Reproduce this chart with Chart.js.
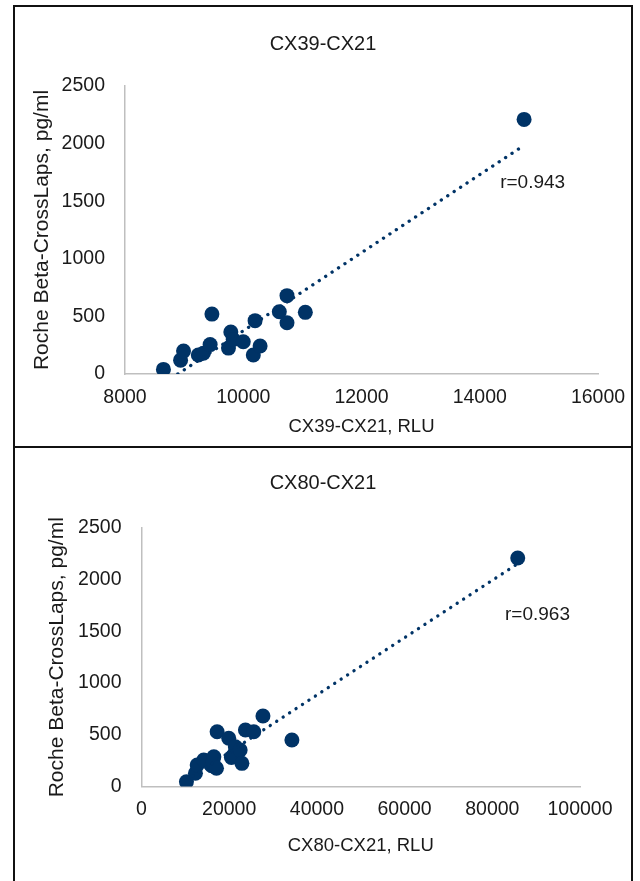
<!DOCTYPE html>
<html><head><meta charset="utf-8">
<script src="https://cdn.jsdelivr.net/npm/chart.js@4"></script>
<style>
html,body{margin:0;padding:0;background:#fff;width:640px;height:881px;overflow:hidden;}
canvas{position:absolute;left:0;}
.ln{position:absolute;background:#111;}
</style></head><body>
<canvas id="c1" width="640" height="447" style="top:0"></canvas>
<canvas id="c2" width="640" height="434" style="top:447px"></canvas>
<div class="ln" style="left:13px;top:5px;width:620px;height:2px"></div>
<div class="ln" style="left:13px;top:5px;width:2px;height:876px"></div>
<div class="ln" style="left:631px;top:5px;width:2px;height:876px"></div>
<div class="ln" style="left:13px;top:446px;width:620px;height:2px"></div>
<script>
// ---- Chart 1: CX39-CX21 ----
const title1 = "CX39-CX21";
const xTitle1 = "CX39-CX21, RLU";
const rLabel1 = "r=0.943";
const x1 = [8650, 8940, 8990, 9240, 9325, 9440, 9470, 9750, 9790, 9830, 10000, 10170, 10200, 10285, 10610, 10740, 10740, 11050, 14750];
const y1 = [40, 120, 200, 165, 180, 255, 520, 225, 365, 300, 280, 165, 463, 243, 540, 680, 445, 535, 2210];
const trendX1 = [8894, 14750];
const trendY1 = [0, 1985];
const xTicks1 = [8000, 10000, 12000, 14000, 16000];

// ---- Chart 2: CX80-CX21 ----
const title2 = "CX80-CX21";
const xTitle2 = "CX80-CX21, RLU";
const rLabel2 = "r=0.963";
const x2 = [10250, 12300, 12700, 14200, 16000, 16300, 16500, 17100, 17250, 19900, 20500, 21000, 21400, 22500, 22900, 23700, 25600, 27700, 34300, 85800];
const y2 = [46, 128, 208, 256, 200, 240, 288, 176, 530, 466, 280, 305, 385, 353, 224, 546, 530, 682, 450, 2210];
const trendX2 = [10250, 85800];
const trendY2 = [60, 2155];
const xTicks2 = [0, 20000, 40000, 60000, 80000, 100000];

const yTitle = "Roche Beta-CrossLaps, pg/ml";
const yTicks = [0, 500, 1000, 1500, 2000, 2500];

const NAVY = "#003366";
const TXT = "#1a1a1a";
const AXIS = "#bfbfbf";
const FONT = "'Liberation Sans', Arial, sans-serif";

function pts(xs, ys){ return xs.map((x,i)=>({x:x, y:ys[i]})); }

const rLabelPlugin = {
  id: 'rlabel',
  afterDatasetsDraw(chart, args, opts){
    const ctx = chart.ctx;
    const xs = chart.scales.x, ys = chart.scales.y;
    ctx.save();
    ctx.font = opts.size + "px " + FONT;
    ctx.fillStyle = TXT;
    ctx.textAlign = 'left';
    ctx.textBaseline = 'middle';
    ctx.fillText(opts.text, xs.getPixelForValue(opts.x), ys.getPixelForValue(opts.y));
    ctx.restore();
  }
};

function makeChart(id, cfg){
  return new Chart(document.getElementById(id), {
    type: 'scatter',
    data: {
      datasets: [
        { data: pts(cfg.xs, cfg.ys), backgroundColor: NAVY, borderColor: NAVY, borderWidth: 0, pointRadius: 7.5, pointHoverRadius: 7.5, order: 2 },
        { data: pts(cfg.tx, cfg.ty), showLine: true, pointRadius: 0, borderColor: NAVY, borderWidth: 3.3, borderDash: [0.1, 7.6], borderCapStyle: 'round', fill: false, order: 1 }
      ]
    },
    options: {
      responsive: false,
      animation: false,
      events: [],
      layout: { padding: { left: cfg.padL, right: cfg.padR, top: 0, bottom: 0 } },
      plugins: {
        legend: { display: false },
        tooltip: { enabled: false },
        title: { display: true, text: cfg.title, color: TXT, font: { family: FONT, size: 20, weight: 'normal' }, padding: { top: cfg.tPadTop, bottom: cfg.tPadBottom } },
        rlabel: { text: cfg.r, x: cfg.rx, y: cfg.ry, size: 19 }
      },
      scales: {
        x: {
          type: 'linear', min: cfg.xTicks[0], max: cfg.xTicks[cfg.xTicks.length-1],
          afterBuildTicks: (s) => { s.ticks = cfg.xTicks.map(v => ({value: v})); },
          afterFit: (s) => { s.height = cfg.xH; },
          grid: { display: false, drawTicks: false },
          border: { display: true, color: AXIS, width: 1.5 },
          ticks: { color: TXT, font: { family: FONT, size: 19.5 }, padding: 11.5, maxRotation: 0, autoSkip: false, callback: (v) => String(v) },
          title: { display: true, text: cfg.xTitle, color: TXT, font: { family: FONT, size: 18.5 }, padding: { top: 0, bottom: cfg.xtPad } }
        },
        y: {
          type: 'linear', min: 0, max: 2500,
          afterBuildTicks: (s) => { s.ticks = yTicks.map(v => ({value: v})); },
          afterFit: (s) => { s.width = cfg.yW; },
          grid: { display: false, drawTicks: false },
          border: { display: true, color: AXIS, width: 1.5 },
          ticks: { color: TXT, font: { family: FONT, size: 19.5 }, padding: 20, callback: (v) => String(v) },
          title: { display: true, text: yTitle, color: TXT, font: { family: FONT, size: 21 }, padding: { top: cfg.ytPad, bottom: 0 } }
        }
      }
    },
    plugins: [rLabelPlugin]
  });
}

makeChart('c1', { xs: x1, ys: y1, tx: trendX1, ty: trendY1, xTicks: xTicks1, title: title1, xTitle: xTitle1, r: rLabel1, rx: 14345, ry: 1658,
  padL: 48, padR: 42, yW: 77, xH: 73, tPadTop: 32, tPadBottom: 30, xtPad: 8.9, ytPad: -18.6 });
makeChart('c2', { xs: x2, ys: y2, tx: trendX2, ty: trendY2, xTicks: xTicks2, title: title2, xTitle: xTitle2, r: rLabel2, rx: 82900, ry: 1659,
  padL: 66, padR: 60, yW: 75.5, xH: 94.5, tPadTop: 24, tPadBottom: 33, xtPad: 23.9, ytPad: -21.1 });
</script>
</body></html>
